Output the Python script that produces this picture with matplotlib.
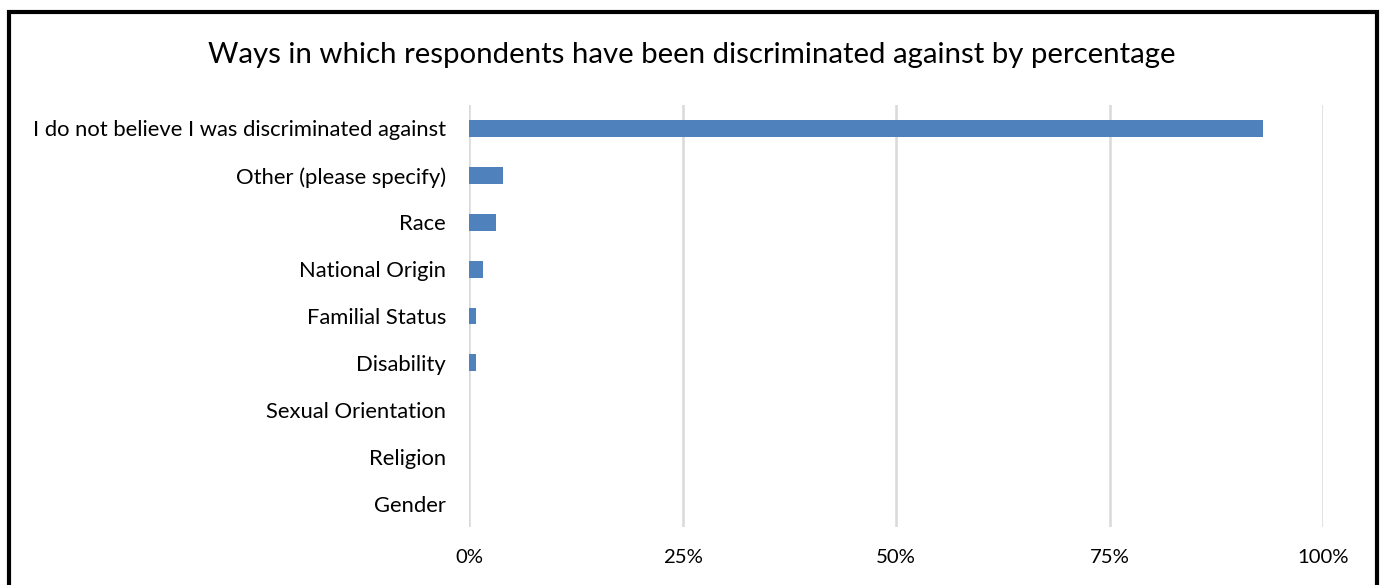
import matplotlib
matplotlib.use('Agg')
import matplotlib.pyplot as plt
from matplotlib.patches import Rectangle
from matplotlib.ticker import PercentFormatter

# datos (de arriba a abajo)
categorias = ['I do not believe I was discriminated against', 'Other (please specify)',
              'Race', 'National Origin', 'Familial Status', 'Disability',
              'Sexual Orientation', 'Religion', 'Gender']
porcentajes = [0.93, 0.040, 0.032, 0.016, 0.008, 0.008, 0.0, 0.0, 0.0]
ticks_x = [0, 0.25, 0.5, 0.75, 1.0]

plt.rcParams['font.family'] = ['Lato', 'DejaVu Sans']

fig = plt.figure(figsize=(13.84, 5.85), dpi=100)
ax = fig.add_axes([469/1384, 1-527/585, (1323-469)/1384, (527-105)/585])

pos = list(range(len(categorias)))
ax.barh(pos, porcentajes, height=0.36, color='#4F81BD', zorder=3)
ax.set_ylim(len(categorias)-0.5, -0.5)
ax.set_xlim(0, 1)
ax.set_yticks(pos)
ax.set_yticklabels(categorias, fontsize=15.8)
ax.set_xticks(ticks_x)
ax.xaxis.set_major_formatter(PercentFormatter(1.0, decimals=0))
ax.tick_params(axis='x', labelsize=14.6, length=0, pad=16)
ax.tick_params(axis='y', length=0, pad=16.5)
ax.grid(axis='x', color='#D9D9D9', linewidth=1.8, zorder=0)
for s in ax.spines.values():
    s.set_visible(False)

fig.text(0.5, 1-55/585, 'Ways in which respondents have been discriminated against by percentage',
         ha='center', va='center', fontsize=21.2)

# marco negro
marco = Rectangle((9/1384, -0.05), (1377-9)/1384, 1.05-12/585, transform=fig.transFigure,
                  fill=False, edgecolor='black', linewidth=3)
fig.patches.append(marco)

plt.savefig('out.png', dpi=100)
